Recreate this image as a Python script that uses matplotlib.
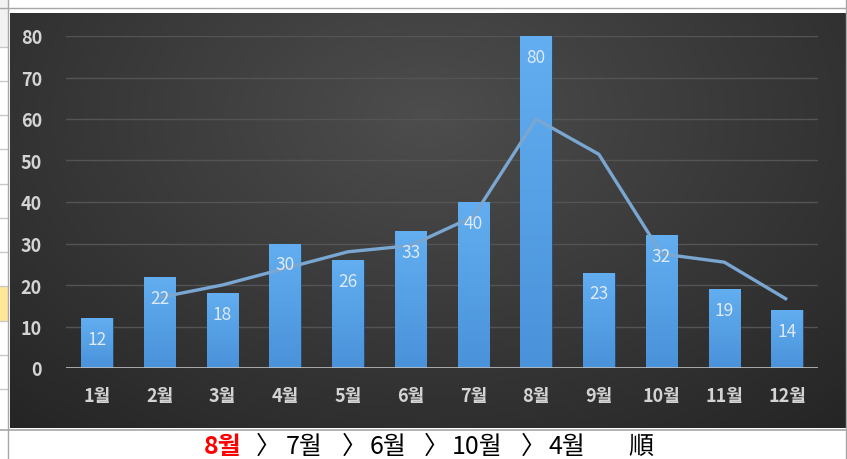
import numpy as np
import matplotlib
matplotlib.use("Agg")
import matplotlib.pyplot as plt
from matplotlib.lines import Line2D
from matplotlib.patches import Rectangle
from matplotlib.colors import LinearSegmentedColormap

plt.rcParams['font.family'] = ['Noto Sans CJK KR', 'DejaVu Sans']

months = ['1월', '2월', '3월', '4월', '5월', '6월', '7월', '8월', '9월', '10월', '11월', '12월']
counts = [12, 22, 18, 30, 26, 33, 40, 80, 23, 32, 19, 14]
# trend line values (starts at 2월)
trend = [None, 17, 20, 24, 28, 29.5, 36.5, 60, 51.5, 27.5, 25.5, 16.5]
yticks = [0, 10, 20, 30, 40, 50, 60, 70, 80]
rank_order = ['8월', '7월', '6월', '10월', '4월']
rank_suffix = '順'

W, H = 847, 460
fig = plt.figure(figsize=(W / 100, H / 100), dpi=100)
fig.patch.set_facecolor('white')

def fx(px):
    return px / W

def fy(py):
    return 1 - py / H

# --- spreadsheet fragment on the left ---
fig.add_artist(Rectangle((0, fy(48)), fx(8), fy(0) - fy(48), transform=fig.transFigure,
                         facecolor='#f2f2f2', edgecolor='none', zorder=0))
fig.add_artist(Rectangle((0, fy(322)), fx(8), fy(287) - fy(322), transform=fig.transFigure,
                         facecolor='#ffe699', edgecolor='none', zorder=0))
for yy in [48, 82, 116, 150, 185, 219, 253, 287, 322, 356, 390]:
    fig.add_artist(Line2D([0, fx(8)], [fy(yy), fy(yy)], transform=fig.transFigure,
                          color='#c8c8c8', lw=1, zorder=1))
fig.add_artist(Line2D([fx(7.5), fx(7.5)], [0, 1], transform=fig.transFigure,
                      color='#a6a6a6', lw=1, zorder=1))
fig.add_artist(Line2D([0, 1], [fy(8.5), fy(8.5)], transform=fig.transFigure,
                      color='#a6a6a6', lw=1, zorder=1))
fig.add_artist(Line2D([0, 1], [fy(431), fy(431)], transform=fig.transFigure,
                      color='#a6a6a6', lw=1.2, zorder=1))
fig.add_artist(Line2D([fx(846), fx(846)], [0, 1], transform=fig.transFigure,
                      color='#a6a6a6', lw=1, zorder=1))

# --- chart background with radial gradient ---
x0, x1, y0, y1 = 10, 845, 14, 429
bg = fig.add_axes([fx(x0), fy(y1), fx(x1) - fx(x0), fy(y0) - fy(y1)])
bg.set_axis_off()
gx, gy = np.meshgrid(np.linspace(0, 1, 400), np.linspace(0, 1, 200))
r = np.sqrt(((gx - 0.5) / 0.75) ** 2 + ((gy - 0.25) / 1.0) ** 2)
r = np.clip(r, 0, 1)
c_in = np.array([0x4d, 0x4d, 0x4d]) / 255
c_out = np.array([0x25, 0x25, 0x25]) / 255
img = c_in[None, None, :] * (1 - r[..., None]) + c_out[None, None, :] * r[..., None]
bg.imshow(img, aspect='auto', extent=[0, 1, 1, 0], interpolation='bilinear')
bg.set_xlim(0, 1)
bg.set_ylim(1, 0)

# --- main axes ---
ax = fig.add_axes([fx(65.6), fy(369), fx(818.4) - fx(65.6), fy(37) - fy(369)])
ax.patch.set_alpha(0)
x = np.arange(len(months))
ax.set_xlim(-0.5, len(months) - 0.5)
ax.set_ylim(0, 80)

for t in yticks[1:]:
    ax.axhline(t, color='#545454', lw=1, zorder=0.5)
ax.axhline(0, color='#bfbfbf', lw=1.2, zorder=3)

bars = ax.bar(x, counts, width=0.5, color='#58a2e6', edgecolor='#27486a', linewidth=0.6, zorder=2)
grad = np.linspace(0, 1, 100)[:, None]
cmap = LinearSegmentedColormap.from_list('b', ['#4a92da', '#62aef0'])
for b in bars:
    bx, bw, bh = b.get_x(), b.get_width(), b.get_height()
    im = ax.imshow(grad, cmap=cmap, extent=[bx, bx + bw, 0, bh], origin='lower',
                   aspect='auto', zorder=2.1)
    im.set_clip_path(b)

tx = [i for i, v in enumerate(trend) if v is not None]
ty = [v for v in trend if v is not None]
ax.plot(tx, ty, color='#7aa6d2', lw=2.4, zorder=3, solid_capstyle='butt')

for xi, v in zip(x, counts):
    ax.annotate(str(v), (xi, v), xytext=(0, -15), textcoords='offset points',
                ha='center', va='center', color='#dde9f6', fontsize=12.5, zorder=4)

ax.set_yticks(yticks)
ax.set_yticklabels([str(t) for t in yticks])
ax.set_xticks(x)
ax.set_xticklabels(months)
ax.tick_params(axis='y', length=0, pad=17, labelcolor='#d4d4d4', labelsize=13)
ax.tick_params(axis='x', length=0, pad=13, labelcolor='#d4d4d4', labelsize=13)
for lab in ax.get_xticklabels() + ax.get_yticklabels():
    lab.set_fontweight('bold')
for s in ax.spines.values():
    s.set_visible(False)

# --- bottom ranking text ---
ty_fig = fy(447)
pieces = [(204, rank_order[0], '#ff0000', 'bold')]
xs_sep = [256, 342, 424, 521]
xs_txt = [286, 370, 452, 548]
for sx, txx, lab in zip(xs_sep, xs_txt, rank_order[1:]):
    pieces.append((sx, '〉', '#000000', 'normal'))
    pieces.append((txx, lab, '#000000', 'normal'))
pieces.append((628, rank_suffix, '#000000', 'normal'))
for px, s, col, wt in pieces:
    fig.text(fx(px), ty_fig, s, color=col, fontweight=wt, fontsize=18,
             ha='left', va='center')

fig.savefig('out.png', dpi=100, facecolor='white')
